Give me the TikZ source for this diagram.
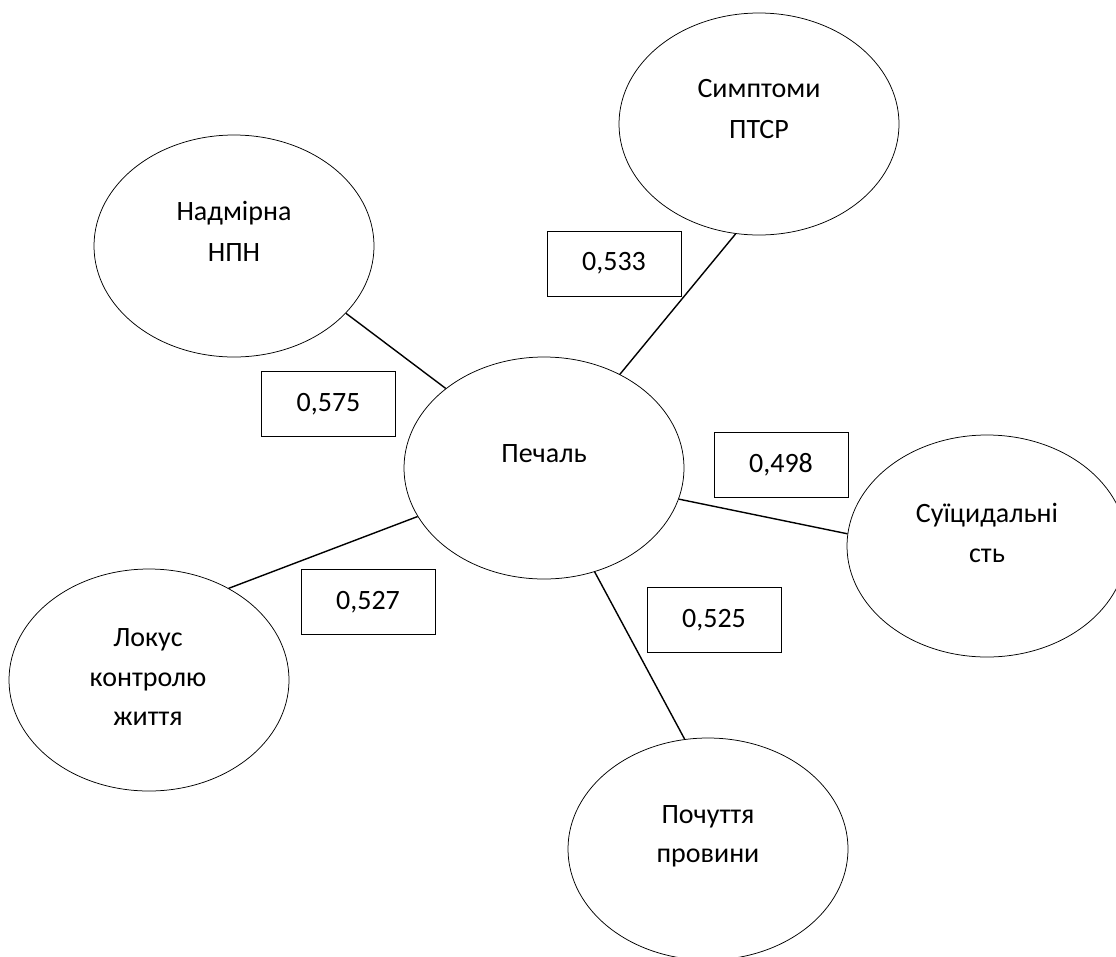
\documentclass[tikz,border=0pt]{standalone}
\usepackage{fontspec}
\setmainfont{Carlito}
\usetikzlibrary{shapes.geometric}
\begin{document}
\begin{tikzpicture}[x=1pt,y=-1pt,
  ell/.style={ellipse,draw,line width=0.75pt,inner sep=0pt,minimum width=280pt,minimum height=222pt},
  val/.style={rectangle,draw,line width=0.8pt,inner sep=0pt,minimum width=134pt,minimum height=65pt,font=\fontsize{28}{34}\selectfont},
  lbl/.style={anchor=base,inner sep=0pt,font=\fontsize{28}{40}\selectfont},
  link/.style={line width=1.4pt}]
\useasboundingbox (0,0) rectangle (1116,956);
\clip (0,0) rectangle (1116,956);
% ellipses
\node[ell] (sym) at (759,124) {};
\node[ell] (nad) at (234,246) {};
\node[ell] (pech) at (544,468) {};
\node[ell] (sui) at (987,546) {};
\node[ell] (lok) at (149,680) {};
\node[ell] (poch) at (708,849) {};
% ellipse texts
\node[lbl] (sym1) at (759,97) {Симптоми};
\node[lbl] (sym2) at (759,138) {ПТСР};
\node[lbl] (nad1) at (234,220) {Надмірна};
\node[lbl] (nad2) at (234,261) {НПН};
\node[lbl] (pech1) at (544,462) {Печаль};
\node[lbl] (sui1) at (987,522) {Суїцидальні};
\node[lbl] (sui2) at (987,562) {сть};
\node[lbl] (lok1) at (148,646) {Локус};
\node[lbl] (lok2) at (148,686) {контролю};
\node[lbl] (lok3) at (148,725) {життя};
\node[lbl] (poch1) at (708,823) {Почуття};
\node[lbl] (poch2) at (708,862) {провини};
% value boxes
\node[val] (v533) at (614,263.5) {0,533};
\node[val] (v575) at (328.5,404) {0,575};
\node[val] (v498) at (781,465) {0,498};
\node[val] (v527) at (368,602) {0,527};
\node[val] (v525) at (714,620) {0,525};
% connectors
\draw[link] (pech.141.4) -- (nad.-31.9);
\draw[link] (pech.51.6) -- (sym.-102.7);
\draw[link] (pech.-13.1) -- (sui.175.2);
\draw[link] (pech.201.6) -- (lok.49.7);
\draw[link] (pech.-64.1) -- (poch.102.7);
\end{tikzpicture}
\end{document}
